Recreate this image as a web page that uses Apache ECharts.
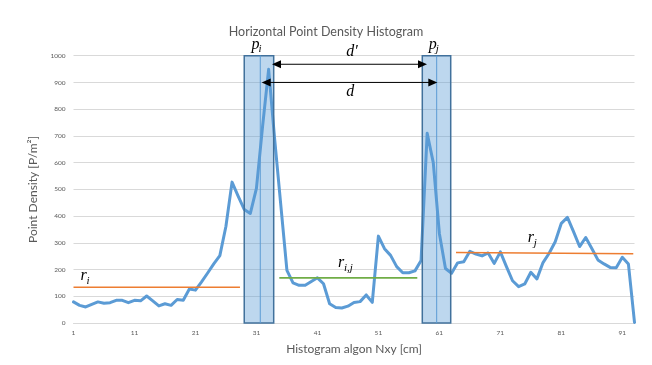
<!DOCTYPE html>
<html>
<head>
<meta charset="utf-8">
<script src="https://cdn.jsdelivr.net/npm/echarts@6/dist/echarts.min.js"></script>
<style>html,body{margin:0;padding:0;background:#fff;}#c{width:652px;height:365px;}</style>
</head>
<body>
<div id="c"></div>
<script>
const categories = ['1','2','3','4','5','6','7','8','9','10','11','12','13','14','15','16','17','18','19','20',
'21','22','23','24','25','26','27','28','29','30','31','32','33','34','35','36','37','38','39','40',
'41','42','43','44','45','46','47','48','49','50','51','52','53','54','55','56','57','58','59','60',
'61','62','63','64','65','66','67','68','69','70','71','72','73','74','75','76','77','78','79','80',
'81','82','83','84','85','86','87','88','89','90','91','92','93'];

const density = [79,66,60,70,79,74,76,85,85,76,85,83,101,83,64,72,66,88,85,127,
123,154,187,221,252,362,527,475,425,410,504,734,949,685,440,197,150,141,141,155,
169,147,72,58,56,63,77,80,105,77,325,278,253,211,188,188,195,234,710,600,
335,204,186,225,229,268,258,251,262,223,266,211,158,136,146,190,165,226,261,304,
373,395,342,286,320,279,236,221,208,207,246,221,2];

const yTicks = {min: 0, max: 1000, interval: 100};

// windows p_i, p_j: [left, middle, right] along the histogram index
const windowLeft = [29.0, 58.2];
const windowMid = [31.63, 60.56];
const windowRight = [33.83, 62.86];

// reference levels r_i, r_ij, r_j
const refFrom = [1.0, 34.75, 63.73];
const refTo = [28.3, 57.38, 92.8];
const refStartLevel = [134, 169, 264];
const refEndLevel = [134, 169, 259];

// distance arrows d', d
const arrowFrom = [33.55, 31.86];
const arrowTo = [58.97, 60.66];
const arrowLevel = [968, 900];

// annotation texts
const labelMain = ['r', 'r', 'r', 'p', 'p', 'd\u2032', 'd'];
const labelSub = ['i', 'i,j', 'j', 'i', 'j', '', ''];
const labelX = [2.64, 44.87, 76.0, 30.85, 59.93, 46.67, 46.4];
const labelY = [176, 224, 318, 1042, 1042, 1013, 864];

const refColors = ['#ed7d31', '#70ad47', '#ed7d31'];

const chart = echarts.init(document.getElementById('c'), null, {renderer: 'canvas'});

const option = {
  animation: false,
  backgroundColor: '#fff',
  title: {
    text: 'Horizontal Point Density Histogram',
    left: 'center',
    top: 20,
    textStyle: {fontFamily: 'Lato', fontWeight: 'normal', fontSize: 12.5, color: '#595959'}
  },
  grid: {left: 73.5, right: 17.5, top: 55.7, bottom: 42},
  xAxis: [{
    type: 'category',
    data: categories,
    boundaryGap: false,
    axisLine: {lineStyle: {color: '#d9d9d9', width: 1}},
    axisTick: {show: false},
    axisLabel: {interval: 9, fontSize: 6.5, color: '#595959', margin: 6, fontFamily: 'Lato'},
    splitLine: {show: false},
    name: 'Histogram algon Nxy [cm]',
    nameLocation: 'middle',
    nameGap: 20,
    nameTextStyle: {fontSize: 12, color: '#595959', fontFamily: 'Lato'}
  }, {
    type: 'value',
    min: 1,
    max: 93,
    show: false
  }],
  yAxis: {
    type: 'value',
    min: yTicks.min,
    max: yTicks.max,
    interval: yTicks.interval,
    axisLine: {show: false},
    axisTick: {show: false},
    axisLabel: {fontSize: 6.5, color: '#595959', margin: 8, fontFamily: 'Lato',
                formatter: function (v) { return String(v); }},
    splitLine: {lineStyle: {color: '#d9d9d9', width: 1}},
    name: 'Point Density [P/m\u00b2]',
    nameLocation: 'middle',
    nameGap: 24,
    nameTextStyle: {fontSize: 12, color: '#595959', fontFamily: 'Lato'}
  },
  series: [
    {
      type: 'line',
      data: density,
      xAxisIndex: 0,
      showSymbol: false,
      symbol: 'none',
      lineStyle: {color: '#5b9bd5', width: 3, join: 'round', cap: 'round'},
      z: 2
    },
    {
      type: 'custom',
      xAxisIndex: 1,
      z: 3,
      data: refFrom.map((v, i) => [v, refTo[i], refStartLevel[i], refEndLevel[i], i]),
      encode: {x: [0, 1], y: [2, 3]},
      renderItem: function (params, api) {
        const a = api.coord([api.value(0), api.value(2)]);
        const b = api.coord([api.value(1), api.value(3)]);
        return {
          type: 'line',
          shape: {x1: a[0], y1: a[1], x2: b[0], y2: b[1]},
          style: {stroke: refColors[api.value(4)], lineWidth: 1.6}
        };
      }
    },
    {
      type: 'custom',
      xAxisIndex: 1,
      z: 4,
      data: windowLeft.map((v, i) => [v, windowMid[i], windowRight[i]]),
      encode: {x: [0, 1, 2]},
      renderItem: function (params, api) {
        const tl = api.coord([api.value(0), yTicks.max]);
        const br = api.coord([api.value(2), yTicks.min]);
        const m = api.coord([api.value(1), yTicks.max]);
        return {
          type: 'group',
          children: [
            {type: 'rect', shape: {x: tl[0], y: tl[1], width: br[0] - tl[0], height: br[1] - tl[1]},
             style: {fill: 'rgba(91,155,213,0.4)', stroke: '#41719c', lineWidth: 1.5}},
            {type: 'line', shape: {x1: m[0], y1: tl[1], x2: m[0], y2: br[1]},
             style: {stroke: '#5b9bd5', lineWidth: 1}}
          ]
        };
      }
    },
    {
      type: 'custom',
      xAxisIndex: 1,
      z: 5,
      clip: false,
      data: arrowFrom.map((v, i) => [v, arrowTo[i], arrowLevel[i]]),
      encode: {x: [0, 1], y: 2},
      renderItem: function (params, api) {
        const a = api.coord([api.value(0), api.value(2)]);
        const b = api.coord([api.value(1), api.value(2)]);
        const hl = 9, hw = 4;
        return {
          type: 'group',
          children: [
            {type: 'line', shape: {x1: a[0] + hl - 1, y1: a[1], x2: b[0] - hl + 1, y2: b[1]},
             style: {stroke: '#000', lineWidth: 1}},
            {type: 'polygon', shape: {points: [[a[0], a[1]], [a[0] + hl, a[1] - hw], [a[0] + hl, a[1] + hw]]},
             style: {fill: '#000'}},
            {type: 'polygon', shape: {points: [[b[0], b[1]], [b[0] - hl, b[1] - hw], [b[0] - hl, b[1] + hw]]},
             style: {fill: '#000'}}
          ]
        };
      }
    },
    {
      type: 'custom',
      xAxisIndex: 1,
      z: 6,
      clip: false,
      data: labelX.map((v, i) => [v, labelY[i], i]),
      encode: {x: 0, y: 1},
      renderItem: function (params, api) {
        const idx = api.value(2);
        const p = api.coord([api.value(0), api.value(1)]);
        const children = [{
          type: 'text',
          x: p[0], y: p[1],
          style: {text: labelMain[idx], font: 'italic 16px "Liberation Serif"', fill: '#000',
                  textAlign: 'center', textVerticalAlign: 'middle', align: 'center', verticalAlign: 'middle'}
        }];
        if (labelSub[idx]) {
          children.push({
            type: 'text',
            x: p[0] + 3, y: p[1] + 5,
            style: {text: labelSub[idx], font: 'italic 11px "Liberation Serif"', fill: '#000',
                    textAlign: 'left', textVerticalAlign: 'middle', align: 'left', verticalAlign: 'middle'}
          });
        }
        return {type: 'group', children: children};
      }
    }
  ]
};
chart.setOption(option);
</script>
</body>
</html>
